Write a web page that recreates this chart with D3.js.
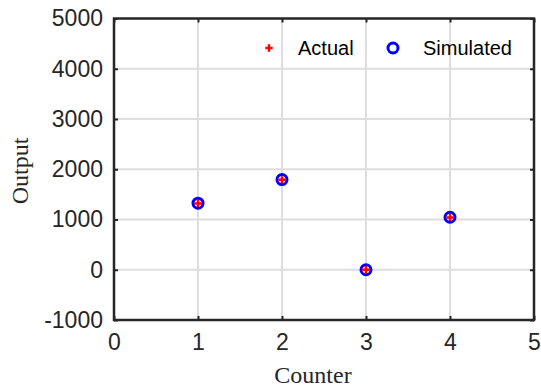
<!DOCTYPE html>
<html>
<head>
<meta charset="utf-8">
<script src="https://cdn.jsdelivr.net/npm/d3@7"></script>
<style>
  body { margin: 0; background: #fff; }
  svg { display: block; }
</style>
</head>
<body>
<div id="chart"></div>
<script>
const counter = [1, 2, 3, 4];
const actual = [1320, 1790, 0, 1040];
const simulated = [1325, 1795, 0, 1045];
const xTicks = [0, 1, 2, 3, 4, 5];
const yTicks = [-1000, 0, 1000, 2000, 3000, 4000, 5000];

const W = 541, H = 387;
const margin = { top: 18.5, right: 7, bottom: 67, left: 114 };
const w = W - margin.left - margin.right;
const h = H - margin.top - margin.bottom;

const svg = d3.select("#chart").append("svg")
  .attr("width", W).attr("height", H);
const g = svg.append("g")
  .attr("transform", `translate(${margin.left},${margin.top})`);

const x = d3.scaleLinear().domain([0, 5]).range([0, w]);
const y = d3.scaleLinear().domain([-1000, 5000]).range([h, 0]);

// grid
g.append("g").selectAll("line").data(xTicks.slice(1, -1)).enter().append("line")
  .attr("x1", d => x(d)).attr("x2", d => x(d))
  .attr("y1", 0).attr("y2", h)
  .attr("stroke", "#dedede").attr("stroke-width", 2);
g.append("g").selectAll("line").data(yTicks.slice(1, -1)).enter().append("line")
  .attr("y1", d => y(d)).attr("y2", d => y(d))
  .attr("x1", 0).attr("x2", w)
  .attr("stroke", "#dedede").attr("stroke-width", 2);

const fmt = d => String(d); // plain hyphen minus, no thousands comma

// axes
g.append("g")
  .attr("transform", `translate(0,${h})`)
  .call(d3.axisBottom(x).tickValues(xTicks).tickFormat(fmt).tickSize(-4).tickPadding(14).tickSizeOuter(0));
g.append("g")
  .call(d3.axisLeft(y).tickValues(yTicks).tickFormat(fmt).tickSize(-4).tickPadding(11).tickSizeOuter(0));
// top / right ticks (box)
g.append("g")
  .call(d3.axisTop(x).tickValues(xTicks).tickSize(-4).tickFormat("").tickSizeOuter(0));
g.append("g").attr("transform", `translate(${w},0)`)
  .call(d3.axisRight(y).tickValues(yTicks).tickSize(-4).tickFormat("").tickSizeOuter(0));

svg.selectAll(".domain").remove();
svg.selectAll(".tick line").attr("stroke", "#262626").attr("stroke-width", 2);
svg.selectAll(".tick text")
  .attr("fill", "#262626")
  .style("font-family", "'Liberation Sans', Arial, sans-serif")
  .style("font-size", "23px");

g.append("rect")
  .attr("x", 0).attr("y", 0).attr("width", w).attr("height", h)
  .attr("fill", "none").attr("stroke", "#262626").attr("stroke-width", 2.5);

// axis titles
svg.append("text")
  .attr("x", 313).attr("y", 383)
  .attr("text-anchor", "middle")
  .style("font-family", "'Liberation Serif', 'Times New Roman', serif")
  .style("font-size", "24px").attr("fill", "#262626")
  .text("Counter");
svg.append("text")
  .attr("transform", "translate(28,171) rotate(-90)")
  .attr("text-anchor", "middle")
  .style("font-family", "'Liberation Serif', 'Times New Roman', serif")
  .style("font-size", "24px").attr("fill", "#262626")
  .text("Output");

// simulated markers
g.selectAll(".sim").data(counter).enter().append("circle")
  .attr("class", "sim")
  .attr("cx", d => x(d)).attr("cy", (d, i) => y(simulated[i]))
  .attr("r", 5).attr("fill", "none")
  .attr("stroke", "#0000ff").attr("stroke-width", 3);

// actual markers
const plus = d3.symbol().type(d3.symbolCross).size(30);
g.selectAll(".act").data(counter).enter().append("path")
  .attr("class", "act")
  .attr("d", plus)
  .attr("transform", (d, i) => `translate(${x(d)},${y(actual[i])})`)
  .attr("fill", "#ff0000");

// legend
const leg = svg.append("g");
leg.append("path").attr("d", plus)
  .attr("transform", "translate(269,48)").attr("fill", "#ff0000");
leg.append("text").attr("x", 298).attr("y", 55)
  .style("font-family", "'Liberation Sans', Arial, sans-serif")
  .style("font-size", "20px").attr("fill", "#000")
  .text("Actual");
leg.append("circle").attr("cx", 393).attr("cy", 48).attr("r", 5)
  .attr("fill", "none").attr("stroke", "#0000ff").attr("stroke-width", 3);
leg.append("text").attr("x", 423).attr("y", 55)
  .style("font-family", "'Liberation Sans', Arial, sans-serif")
  .style("font-size", "20px").attr("fill", "#000")
  .text("Simulated");
</script>
</body>
</html>
